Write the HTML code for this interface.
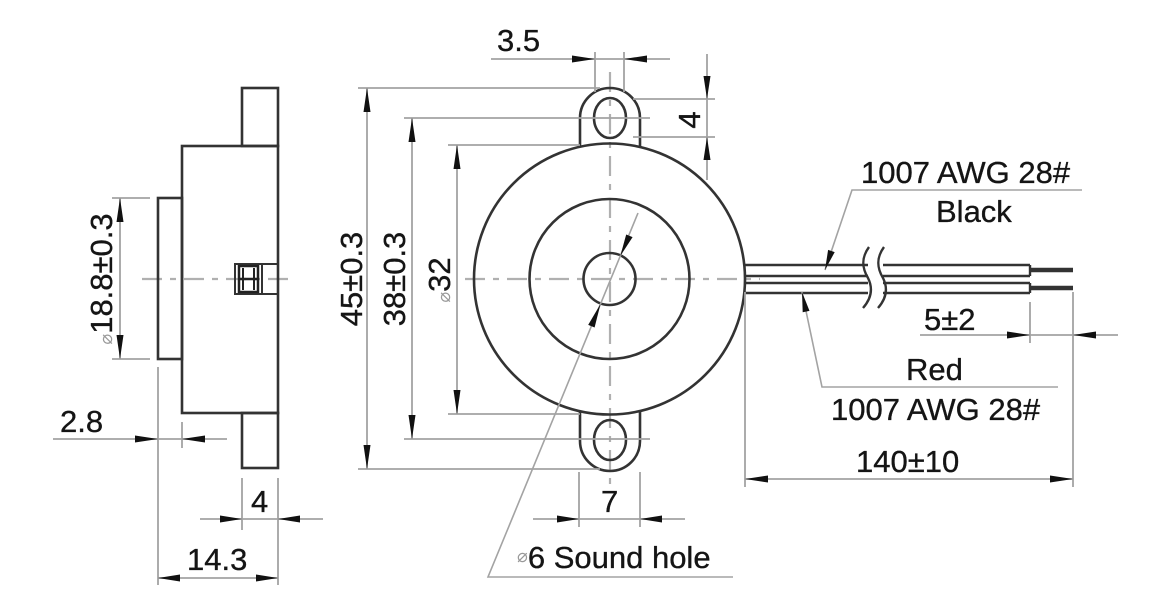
<!DOCTYPE html>
<html><head><meta charset="utf-8"><style>
html,body{margin:0;padding:0;background:#fff;}
svg{display:block;}
text{font-family:"Liberation Sans",Arial,sans-serif;font-size:31px;fill:#151515;stroke:#151515;stroke-width:0.35;}
.o{stroke:#333;stroke-width:2.6;fill:none;}
.d{stroke:#a3a3a3;stroke-width:1.8;fill:none;}
.c{stroke:#b0b0b0;stroke-width:2.2;fill:none;stroke-dasharray:20 8 6 8;}
.a{fill:#111;stroke:none;}
.ph{font-size:18px;fill:#999;stroke:none;}
</style></head><body>
<svg width="1149" height="604" viewBox="0 0 1149 604" xmlns="http://www.w3.org/2000/svg">
<!-- ===== SIDE VIEW ===== -->
<line class="c" x1="142" y1="279" x2="292" y2="279"/>
<rect class="o" x="242" y="88" width="36" height="58"/>
<rect class="o" x="182" y="146" width="96" height="267"/>
<rect class="o" x="242" y="413" width="36" height="55"/>
<rect class="o" x="158" y="198" width="24" height="161"/>
<!-- connector -->
<rect class="o" x="235" y="264" width="43" height="30" style="stroke-width:2"/>
<line class="o" x1="262" y1="264" x2="262" y2="294" style="stroke-width:2"/>
<rect x="239" y="266" width="19" height="26" fill="none" stroke="#222" stroke-width="2.5"/>
<line x1="243" y1="268" x2="243" y2="290" stroke="#222" stroke-width="2"/>
<line x1="254" y1="268" x2="254" y2="290" stroke="#222" stroke-width="2"/>
<line x1="239" y1="279" x2="258" y2="279" stroke="#222" stroke-width="2.5"/>
<!-- 18.8 dim -->
<line class="d" x1="112" y1="198" x2="150" y2="198"/>
<line class="d" x1="112" y1="359" x2="150" y2="359"/>
<line class="d" x1="120" y1="198" x2="120" y2="359"/>
<polygon class="a" points="116.5,222 120,198 123.5,222"/>
<polygon class="a" points="116.5,335 120,359 123.5,335"/>
<text transform="translate(112,279) rotate(-90)" text-anchor="middle"><tspan class="ph">⌀</tspan>18.8±0.3</text>
<!-- 2.8 dim -->
<line class="d" x1="158" y1="367" x2="158" y2="585"/>
<line class="d" x1="182" y1="422" x2="182" y2="448"/>
<line class="d" x1="53" y1="439" x2="227" y2="439"/>
<polygon class="a" points="135,435.5 158,439 135,442.5"/>
<polygon class="a" points="205,435.5 182,439 205,442.5"/>
<text x="60" y="432">2.8</text>
<!-- 4 dim -->
<line class="d" x1="242" y1="478" x2="242" y2="530"/>
<line class="d" x1="278" y1="478" x2="278" y2="585"/>
<line class="d" x1="200" y1="519" x2="323" y2="519"/>
<polygon class="a" points="220,515.5 242,519 220,522.5"/>
<polygon class="a" points="300,515.5 278,519 300,522.5"/>
<text x="251" y="512">4</text>
<!-- 14.3 -->
<line class="d" x1="158" y1="578" x2="278" y2="578"/>
<polygon class="a" points="180,574.5 158,578 180,581.5"/>
<polygon class="a" points="256,574.5 278,578 256,581.5"/>
<text x="187" y="570">14.3</text>

<!-- ===== FRONT VIEW ===== -->
<line class="c" x1="465" y1="279" x2="760" y2="279"/>
<line class="c" x1="610" y1="72" x2="610" y2="490"/>
<circle class="o" cx="609.5" cy="279" r="135.5"/>
<circle class="o" cx="609.5" cy="279" r="80"/>
<circle class="o" cx="609.5" cy="279" r="26"/>
<path class="o" d="M580,147 V118 A30,30 0 0 1 640,118 V147"/>
<path class="o" d="M580,411 V441 A30,30 0 0 0 640,441 V411"/>
<ellipse class="o" cx="610" cy="118" rx="16" ry="20"/>
<ellipse class="o" cx="610" cy="440" rx="16" ry="20"/>
<!-- 45 -->
<line class="d" x1="358" y1="88" x2="600" y2="88"/>
<line class="d" x1="358" y1="469" x2="600" y2="469"/>
<line class="d" x1="367" y1="88" x2="367" y2="469"/>
<polygon class="a" points="363.5,112 367,88 370.5,112"/>
<polygon class="a" points="363.5,445 367,469 370.5,445"/>
<text transform="translate(362,279) rotate(-90)" text-anchor="middle">45±0.3</text>
<!-- 38 -->
<line class="d" x1="404" y1="118" x2="650" y2="118"/>
<line class="d" x1="404" y1="439" x2="650" y2="439"/>
<line class="d" x1="412" y1="118" x2="412" y2="439"/>
<polygon class="a" points="408.5,142 412,118 415.5,142"/>
<polygon class="a" points="408.5,415 412,439 415.5,415"/>
<text transform="translate(405,279) rotate(-90)" text-anchor="middle">38±0.3</text>
<!-- 32 -->
<line class="d" x1="448" y1="145" x2="580" y2="145"/>
<line class="d" x1="448" y1="414" x2="580" y2="414"/>
<line class="d" x1="457" y1="145" x2="457" y2="414"/>
<polygon class="a" points="453.5,169 457,145 460.5,169"/>
<polygon class="a" points="453.5,390 457,414 460.5,390"/>
<text transform="translate(450,280) rotate(-90)" text-anchor="middle"><tspan class="ph">⌀</tspan>32</text>
<!-- 3.5 -->
<line class="d" x1="595" y1="52" x2="595" y2="92"/>
<line class="d" x1="624" y1="52" x2="624" y2="92"/>
<line class="d" x1="491" y1="59" x2="670" y2="59"/>
<polygon class="a" points="572,55.5 595,59 572,62.5"/>
<polygon class="a" points="647,55.5 624,59 647,62.5"/>
<text x="497" y="51">3.5</text>
<!-- 4 vertical -->
<line class="d" x1="633" y1="99" x2="715" y2="99"/>
<line class="d" x1="633" y1="137" x2="715" y2="137"/>
<line class="d" x1="707" y1="54" x2="707" y2="180"/>
<polygon class="a" points="703.5,76 707,99 710.5,76"/>
<polygon class="a" points="703.5,160 707,137 710.5,160"/>
<text transform="translate(700,120) rotate(-90)" text-anchor="middle">4</text>
<!-- 7 -->
<line class="d" x1="579" y1="472" x2="579" y2="527"/>
<line class="d" x1="640" y1="472" x2="640" y2="527"/>
<line class="d" x1="533" y1="519" x2="685" y2="519"/>
<polygon class="a" points="557,515.5 579,519 557,522.5"/>
<polygon class="a" points="662,515.5 640,519 662,522.5"/>
<text x="601" y="512">7</text>
<!-- sound hole leader -->
<polyline class="d" points="638,213 488,577 733,577" style="stroke-width:1.6"/>
<polygon class="a" points="620.3,256 632.6,237.1 626.2,234.5"/>
<polygon class="a" points="600.5,304 594.6,327.5 588.2,324.9"/>
<text x="517" y="568"><tspan class="ph" dy="-6">⌀</tspan><tspan dy="6">6 Sound hole</tspan></text>

<!-- ===== WIRES ===== -->
<g stroke="#333" stroke-width="2.4" fill="none">
<line x1="745" y1="265" x2="868" y2="265"/>
<line x1="745" y1="276" x2="868" y2="276"/>
<line x1="745" y1="283" x2="868" y2="283"/>
<line x1="745" y1="293" x2="868" y2="293"/>
<line x1="883" y1="265" x2="1030" y2="265"/>
<line x1="883" y1="276" x2="1030" y2="276"/>
<line x1="883" y1="283" x2="1030" y2="283"/>
<line x1="883" y1="293" x2="1030" y2="293"/>
<line x1="1030" y1="265" x2="1030" y2="276"/>
<line x1="1030" y1="283" x2="1030" y2="293"/>
<path d="M869,247 C861,258 862,268 868,278 C874,290 870,300 863,308"/>
<path d="M884,247 C876,258 877,268 883,278 C889,290 885,300 878,308"/>
</g>
<line x1="1030" y1="270" x2="1073" y2="270" stroke="#333" stroke-width="4.5"/>
<line x1="1030" y1="288" x2="1073" y2="288" stroke="#333" stroke-width="4.5"/>
<!-- black leader -->
<polyline class="d" points="825,270 852,190 1082,190" style="stroke-width:1.6"/>
<polygon class="a" points="825,270 834.7,252.1 828.1,249.9"/>
<text x="861" y="183">1007 AWG 28#</text>
<text x="936" y="222">Black</text>
<!-- red leader -->
<polyline class="d" points="802,292 822,387 1058,387" style="stroke-width:1.6"/>
<polygon class="a" points="802,292 809.5,310.9 802.7,312.3"/>
<text x="906" y="380">Red</text>
<text x="831" y="420">1007 AWG 28#</text>
<!-- 5±2 -->
<line class="d" x1="1030" y1="302" x2="1030" y2="343"/>
<line class="d" x1="1073" y1="292" x2="1073" y2="487"/>
<line class="d" x1="920" y1="335" x2="1118" y2="335"/>
<polygon class="a" points="1007,331.5 1030,335 1007,338.5"/>
<polygon class="a" points="1096,331.5 1073,335 1096,338.5"/>
<text x="924" y="330">5±2</text>
<!-- 140±10 -->
<line class="d" x1="745" y1="292" x2="745" y2="487"/>
<line class="d" x1="745" y1="479" x2="1073" y2="479"/>
<polygon class="a" points="768,475.5 745,479 768,482.5"/>
<polygon class="a" points="1050,475.5 1073,479 1050,482.5"/>
<text x="856" y="472">140±10</text>
</svg>
</body></html>
